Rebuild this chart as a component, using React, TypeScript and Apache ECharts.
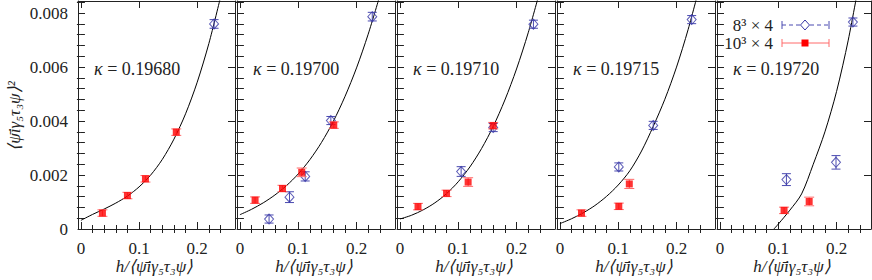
import React, { useEffect, useRef } from "react";
import * as echarts from "echarts";

// ---------- data ----------
const kappaValues = ["0.19680", "0.19700", "0.19710", "0.19715", "0.19720"];

const xMajorTicks = [0, 0.1, 0.2];
const xMinorTicks = [0.02, 0.04, 0.06, 0.08, 0.12, 0.14, 0.16, 0.18, 0.22, 0.24];
const yMajorTicks = [0, 0.002, 0.004, 0.006, 0.008];
const yMinorTicks = [
  0.0004, 0.0008, 0.0012, 0.0016, 0.0024, 0.0028, 0.0032, 0.0036, 0.0044, 0.0048,
  0.0052, 0.0056, 0.0064, 0.0068, 0.0072, 0.0076, 0.0084,
];

// [x, y, yError]  — 10^3 x 4 (red) and 8^3 x 4 (blue)
const red19680 = [[0.037, 0.00059, 0.00012], [0.080, 0.00124, 0.00012], [0.111, 0.00186, 0.00012], [0.164, 0.00359, 0.00012]];
const blue19680 = [[0.229, 0.0076, 0.00016]];
const fitX19680 = [0, 0.02, 0.04, 0.06, 0.08, 0.10, 0.12, 0.14, 0.16, 0.18, 0.20, 0.22, 0.24];
const fitY19680 = [0.00032, 0.00054, 0.00074, 0.00096, 0.00122, 0.00156, 0.0020, 0.00258, 0.00333, 0.00427, 0.00544, 0.00687, 0.00858];

const red19700 = [[0.026, 0.00107, 0.00012], [0.073, 0.0015, 0.00012], [0.106, 0.0021, 0.00016], [0.161, 0.00385, 0.00012]];
const blue19700 = [[0.050, 0.00037, 0.00015], [0.085, 0.00118, 0.0002], [0.112, 0.00195, 0.00017], [0.156, 0.00402, 0.00015], [0.227, 0.00787, 0.00016]];
const fitX19700 = [0, 0.02, 0.04, 0.06, 0.08, 0.10, 0.12, 0.14, 0.16, 0.18, 0.20, 0.22, 0.24];
const fitY19700 = [0.00053, 0.00073, 0.00097, 0.00126, 0.00161, 0.00204, 0.00257, 0.00321, 0.00398, 0.0049, 0.00597, 0.00722, 0.00865];

const red19710 = [[0.031, 0.00083, 0.00012], [0.080, 0.00132, 0.00012], [0.117, 0.00174, 0.00016], [0.160, 0.00383, 0.00012]];
const blue19710 = [[0.105, 0.00213, 0.00018], [0.160, 0.00376, 0.00015], [0.229, 0.00759, 0.00015]];
const fitX19710 = [0, 0.02, 0.04, 0.06, 0.08, 0.10, 0.12, 0.14, 0.16, 0.18, 0.20, 0.22, 0.24];
const fitY19710 = [0.00037, 0.00051, 0.00071, 0.00097, 0.00131, 0.00175, 0.0023, 0.00298, 0.0038, 0.00478, 0.00593, 0.00727, 0.00881];

const red19715 = [[0.037, 0.00059, 0.00012], [0.101, 0.00084, 0.00012], [0.119, 0.00167, 0.00017]];
const blue19715 = [[0.101, 0.0023, 0.00015], [0.160, 0.00384, 0.00015], [0.226, 0.00776, 0.00015]];
const fitX19715 = [0, 0.02, 0.04, 0.06, 0.08, 0.10, 0.12, 0.14, 0.16, 0.18, 0.20, 0.22, 0.24];
const fitY19715 = [0.0002, 0.00038, 0.0006, 0.00087, 0.00121, 0.00163, 0.00216, 0.00289, 0.0038, 0.00481, 0.006, 0.0074, 0.00902];

const red19720 = [[0.110, 0.00069, 0.00012], [0.153, 0.00102, 0.00016]];
const blue19720 = [[0.114, 0.00183, 0.00022], [0.199, 0.00247, 0.00025], [0.228, 0.00767, 0.00015]];
const fitX19720 = [0.0926, 0.10, 0.12, 0.14, 0.16, 0.18, 0.20, 0.22, 0.24];
const fitY19720 = [0, 0.00018, 0.0007, 0.0013, 0.0024, 0.0036, 0.0051, 0.0070, 0.0093];

// ---------- layout / style ----------
const panelLeft = [78, 237, 397, 557, 717];
const panelWidth = [157, 158, 158, 158, 154];
const panelTop = 1;
const panelHeight = 228;
const xMin = -0.005;
const xMax = [0.265, 0.266, 0.266, 0.266, 0.259];
const yMax = 0.00845;

const FONT = "Liberation Serif";
const FRAME = "#222";
const RED = "#ff0000";
const RED_ERR = "#ff6a6a";
const BLUE = "#3535a5";
const BLUE_ERR = "#4a4ab0";

const panels = [
  { red: red19680, blue: blue19680, fx: fitX19680, fy: fitY19680 },
  { red: red19700, blue: blue19700, fx: fitX19700, fy: fitY19700 },
  { red: red19710, blue: blue19710, fx: fitX19710, fy: fitY19710 },
  { red: red19715, blue: blue19715, fx: fitX19715, fy: fitY19715 },
  { red: red19720, blue: blue19720, fx: fitX19720, fy: fitY19720 },
];

function errorBar(color: string, hw: number) {
  return (params: any, api: any) => {
    const x = api.value(0);
    const y = api.value(1);
    const e = api.value(2);
    const t = api.coord([x, y + e]);
    const b = api.coord([x, y - e]);
    const style = { stroke: color, lineWidth: 1 };
    return {
      type: "group",
      children: [
        { type: "line", shape: { x1: t[0], y1: t[1], x2: b[0], y2: b[1] }, style },
        { type: "line", shape: { x1: t[0] - hw, y1: t[1], x2: t[0] + hw, y2: t[1] }, style },
        { type: "line", shape: { x1: b[0] - hw, y1: b[1], x2: b[0] + hw, y2: b[1] }, style },
      ],
    };
  };
}

function buildOption() {
  const grid: any[] = [];
  const xAxis: any[] = [];
  const yAxis: any[] = [];
  const series: any[] = [];
  const graphic: any[] = [];

  panels.forEach((p, i) => {
    grid.push({ left: panelLeft[i], top: panelTop, width: panelWidth[i], height: panelHeight });
    const xBase = { type: "value", gridIndex: i, min: xMin, max: xMax[i], splitLine: { show: false } };
    const yBase = { type: "value", gridIndex: i, min: 0, max: yMax, splitLine: { show: false } };
    const lineOn = { show: true, onZero: false, lineStyle: { color: FRAME, width: 1 } };
    const tickStyle = { color: FRAME, width: 1 };
    xAxis.push({
      ...xBase, position: "bottom", axisLine: lineOn,
      axisTick: { show: true, inside: true, length: 7, customValues: xMajorTicks, lineStyle: tickStyle },
      axisLabel: {
        show: true, customValues: xMajorTicks, margin: 11, color: FRAME, fontFamily: FONT, fontSize: 17,
        formatter: (v: number) => (v === 0 ? "0" : String(Math.round(v * 10) / 10)),
      },
    });
    xAxis.push({
      ...xBase, position: "bottom", axisLine: { show: false },
      axisTick: { show: true, inside: true, length: 4, customValues: xMinorTicks, lineStyle: tickStyle },
      axisLabel: { show: false },
    });
    xAxis.push({
      ...xBase, position: "top", axisLine: lineOn,
      axisTick: { show: true, inside: true, length: 7, customValues: xMajorTicks, lineStyle: tickStyle },
      axisLabel: { show: false },
    });
    xAxis.push({
      ...xBase, position: "top", axisLine: { show: false },
      axisTick: { show: true, inside: true, length: 4, customValues: xMinorTicks, lineStyle: tickStyle },
      axisLabel: { show: false },
    });
    yAxis.push({
      ...yBase, position: "left", axisLine: lineOn,
      axisTick: { show: true, inside: true, length: 7, customValues: yMajorTicks, lineStyle: tickStyle },
      axisLabel: {
        show: i === 0, customValues: yMajorTicks, margin: 10, color: FRAME, fontFamily: FONT, fontSize: 17,
        formatter: (v: number) => (v === 0 ? "0" : v.toFixed(3)),
      },
    });
    yAxis.push({
      ...yBase, position: "left", axisLine: { show: false },
      axisTick: { show: true, inside: true, length: 4, customValues: yMinorTicks, lineStyle: tickStyle },
      axisLabel: { show: false },
    });
    yAxis.push({
      ...yBase, position: "right", axisLine: lineOn,
      axisTick: { show: true, inside: true, length: 7, customValues: yMajorTicks, lineStyle: tickStyle },
      axisLabel: { show: false },
    });
    yAxis.push({
      ...yBase, position: "right", axisLine: { show: false },
      axisTick: { show: true, inside: true, length: 4, customValues: yMinorTicks, lineStyle: tickStyle },
      axisLabel: { show: false },
    });

    const xi = i * 4;
    const yi = i * 4;
    series.push({
      type: "line", xAxisIndex: xi, yAxisIndex: yi, data: p.fx.map((x, k) => [x, p.fy[k]]),
      smooth: 0.3, showSymbol: false, symbol: "none", lineStyle: { color: "#000", width: 1 }, z: 1, clip: true,
    });
    series.push({
      type: "custom", xAxisIndex: xi, yAxisIndex: yi, data: p.blue, renderItem: errorBar(BLUE_ERR, 4.5),
      encode: { x: 0, y: 1 }, z: 2, clip: true,
    });
    series.push({
      type: "scatter", xAxisIndex: xi, yAxisIndex: yi, data: p.blue.map((d) => [d[0], d[1]]),
      symbol: "diamond", symbolSize: [9, 10],
      itemStyle: { color: "rgba(255,255,255,0)", borderColor: BLUE, borderWidth: 1 }, z: 3,
    });
    series.push({
      type: "custom", xAxisIndex: xi, yAxisIndex: yi, data: p.red, renderItem: errorBar(RED_ERR, 5),
      encode: { x: 0, y: 1 }, z: 4, clip: true,
    });
    series.push({
      type: "scatter", xAxisIndex: xi, yAxisIndex: yi, data: p.red.map((d) => [d[0], d[1]]),
      symbol: "rect", symbolSize: 7, itemStyle: { color: RED }, z: 5,
    });

    graphic.push({
      type: "text", left: panelLeft[i] + 16, top: 60, z: 10,
      style: {
        text: "{k|κ} = " + kappaValues[i], fill: "#222", fontFamily: FONT, fontSize: 18,
        rich: { k: { fontStyle: "italic", fontFamily: FONT, fontSize: 18, fill: "#222" } },
      },
    });
    graphic.push({
      type: "text", x: panelLeft[i] + panelWidth[i] / 2 - 2, y: 266, z: 10,
      style: {
        text: "h/⟨ψ̄iγ₅τ₃ψ⟩", fill: "#222", fontFamily: FONT, fontSize: 17, fontStyle: "italic",
        textAlign: "center", textVerticalAlign: "middle",
      },
    });
  });

  graphic.push({
    type: "text", x: 14, y: 116, rotation: Math.PI / 2, z: 10,
    style: {
      text: "⟨ψ̄iγ₅τ₃ψ⟩²", fill: "#222", fontFamily: FONT, fontSize: 17, fontStyle: "italic",
      textAlign: "center", textVerticalAlign: "middle",
    },
  });

  // legend (panel 5)
  const legY = [25, 43];
  const lx1 = 782, lx2 = 829, lxm = 805;
  graphic.push({
    type: "text", x: 773, y: legY[0], z: 10,
    style: { text: "8³ × 4", fill: "#222", fontFamily: FONT, fontSize: 17, textAlign: "right", textVerticalAlign: "middle" },
  });
  graphic.push({
    type: "text", x: 773, y: legY[1], z: 10,
    style: { text: "10³ × 4", fill: "#222", fontFamily: FONT, fontSize: 17, textAlign: "right", textVerticalAlign: "middle" },
  });
  graphic.push({ type: "line", z: 10, shape: { x1: lx1, y1: legY[0], x2: lx2, y2: legY[0] }, style: { stroke: BLUE_ERR, lineWidth: 1, lineDash: [4, 3] } });
  graphic.push({ type: "line", z: 10, shape: { x1: lx1, y1: legY[0] - 4, x2: lx1, y2: legY[0] + 4 }, style: { stroke: BLUE_ERR, lineWidth: 1 } });
  graphic.push({ type: "line", z: 10, shape: { x1: lx2, y1: legY[0] - 4, x2: lx2, y2: legY[0] + 4 }, style: { stroke: BLUE_ERR, lineWidth: 1 } });
  graphic.push({
    type: "polygon", z: 11,
    shape: { points: [[lxm, legY[0] - 5], [lxm + 4.5, legY[0]], [lxm, legY[0] + 5], [lxm - 4.5, legY[0]]] },
    style: { fill: "#fff", stroke: BLUE, lineWidth: 1 },
  });
  graphic.push({ type: "line", z: 10, shape: { x1: lx1, y1: legY[1], x2: lx2, y2: legY[1] }, style: { stroke: RED_ERR, lineWidth: 1 } });
  graphic.push({ type: "line", z: 10, shape: { x1: lx1, y1: legY[1] - 4, x2: lx1, y2: legY[1] + 4 }, style: { stroke: RED_ERR, lineWidth: 1 } });
  graphic.push({ type: "line", z: 10, shape: { x1: lx2, y1: legY[1] - 4, x2: lx2, y2: legY[1] + 4 }, style: { stroke: RED_ERR, lineWidth: 1 } });
  graphic.push({ type: "rect", z: 11, shape: { x: lxm - 3.5, y: legY[1] - 3.5, width: 7, height: 7 }, style: { fill: RED } });

  return { animation: false, backgroundColor: "#fff", grid, xAxis, yAxis, series, graphic };
}

export default function App() {
  const ref = useRef<HTMLDivElement>(null);
  useEffect(() => {
    if (!ref.current) return;
    const chart = echarts.init(ref.current, undefined, { renderer: "svg" });
    chart.setOption(buildOption() as any);
    return () => chart.dispose();
  }, []);
  return <div ref={ref} style={{ width: 872, height: 280, position: "absolute", left: 0, top: 0 }} />;
}
